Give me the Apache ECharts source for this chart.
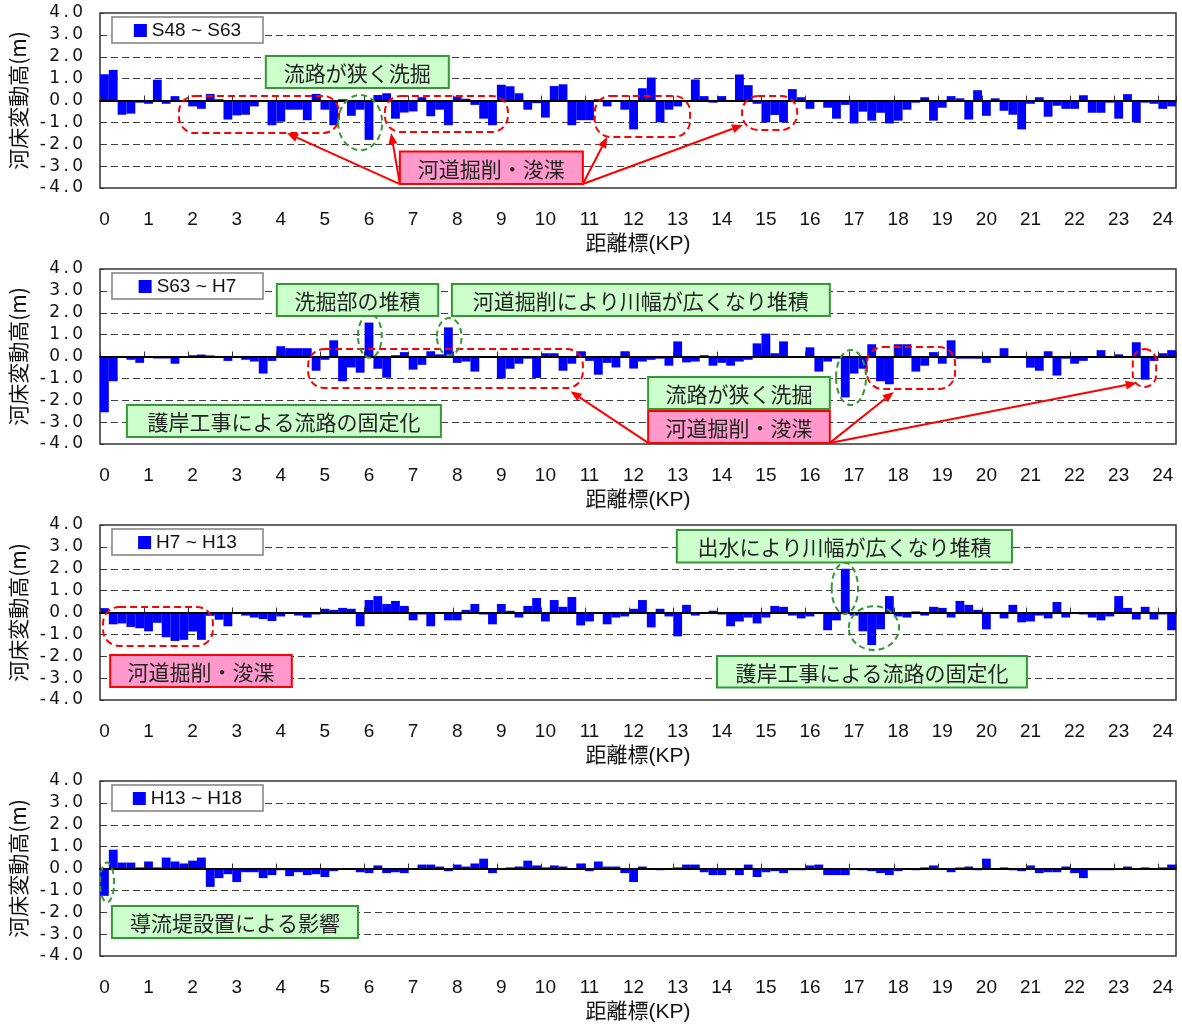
<!DOCTYPE html>
<html><head><meta charset="utf-8">
<script src="https://cdn.jsdelivr.net/npm/echarts@6/dist/echarts.min.js"></script>
<style>html,body{margin:0;padding:0;background:#fff}#c{width:1182px;height:1029px}</style>
</head><body><div id="c"></div>
<script>
// ---------- data ----------
const kp = [0,0.2,0.4,0.6,0.8,1,1.2,1.4,1.6,1.8,2,2.2,2.4,2.6,2.8,3,3.2,3.4,3.6,3.8,
4,4.2,4.4,4.6,4.8,5,5.2,5.4,5.6,5.8,6,6.2,6.4,6.6,6.8,7,7.2,7.4,7.6,7.8,
8,8.2,8.4,8.6,8.8,9,9.2,9.4,9.6,9.8,10,10.2,10.4,10.6,10.8,11,11.2,11.4,11.6,11.8,
12,12.2,12.4,12.6,12.8,13,13.2,13.4,13.6,13.8,14,14.2,14.4,14.6,14.8,15,15.2,15.4,15.6,15.8,
16,16.2,16.4,16.6,16.8,17,17.2,17.4,17.6,17.8,18,18.2,18.4,18.6,18.8,19,19.2,19.4,19.6,19.8,
20,20.2,20.4,20.6,20.8,21,21.2,21.4,21.6,21.8,22,22.2,22.4,22.6,22.8,23,23.2,23.4,23.6,23.8,
24,24.2];

const periods = ['S48 ~ S63', 'S63 ~ H7', 'H7 ~ H13', 'H13 ~ H18'];

const chgS48_S63 = [1.2,1.4,-0.65,-0.6,-0.1,-0.15,0.95,-0.15,0.2,0.0,
-0.27,-0.38,0.3,0.06,-0.87,-0.68,-0.65,-0.27,-0.05,-1.13,
-0.97,-0.42,-0.42,-0.9,0.3,-0.42,-1.13,0.06,-0.7,-0.42,
-1.8,0.25,0.33,-0.83,-0.55,-0.5,0.15,-0.72,-0.42,-1.13,
0.18,0.08,-0.2,-0.83,-1.13,0.72,0.65,0.33,-0.42,-0.12,
-0.78,0.66,0.74,-1.13,-0.9,-0.9,0.06,-0.27,0.0,-0.42,
-1.32,0.56,1.05,-1.0,-0.42,-0.27,-0.05,0.96,0.2,-0.1,
0.2,-0.05,1.19,0.7,-0.15,-1.0,-0.66,-1.0,0.52,0.15,
-0.38,0.0,-0.33,-0.83,-0.2,-1.05,-0.51,-0.92,-0.56,-1.05,
-0.92,-0.42,-0.1,0.15,-0.92,-0.33,0.2,0.1,-0.87,0.47,
-0.7,0.1,-0.47,-0.65,-1.32,-0.15,0.15,-0.74,-0.24,-0.38,
-0.38,0.24,-0.56,-0.56,-0.1,-0.83,0.29,-1.0,-0.1,-0.15,
-0.38,-0.27];

const chgS63_H7 = [-2.55,-1.13,-0.03,-0.15,-0.29,-0.02,-0.09,-0.09,-0.33,-0.06,
0.06,0.09,0.05,0.0,-0.2,-0.06,-0.15,-0.23,-0.78,-0.2,
0.47,0.38,0.38,0.38,-0.65,-0.15,0.74,-1.13,-0.5,-0.74,
1.55,-0.56,-0.97,0.06,0.2,-0.6,-0.38,0.24,0.1,1.33,
-0.29,-0.23,-0.69,0.0,-0.02,-1.01,-0.56,-0.33,-0.1,-0.98,
0.15,0.15,-0.65,-0.33,0.24,-0.2,-0.83,-0.29,-0.5,0.24,
-0.55,-0.23,-0.15,-0.1,-0.42,0.69,-0.27,-0.23,0.06,-0.42,
-0.29,-0.42,-0.23,-0.15,0.6,1.05,0.15,0.69,0.0,0.0,
0.42,-0.69,-0.23,-0.1,-1.87,-0.78,-0.56,0.56,-1.13,-1.27,
0.56,0.56,-0.69,-0.42,0.2,-0.33,0.74,-0.1,-0.1,-0.1,
-0.29,0.0,0.38,-0.06,0.0,-0.51,-0.65,0.24,-0.87,-0.1,
-0.33,-0.2,0.0,0.29,0.0,0.1,0.0,0.65,-1.06,-0.2,
0.15,0.29];

const chgH7_H13 = [0.2,-0.54,-0.5,-0.66,-0.72,-0.86,-0.47,-1.13,-1.3,-1.25,
-0.87,-1.25,-0.15,-0.33,-0.63,0.0,-0.14,-0.23,-0.3,-0.39,
-0.18,-0.05,-0.14,-0.23,-0.09,0.17,0.12,0.21,0.17,-0.63,
0.57,0.75,0.39,0.53,0.3,-0.36,-0.09,-0.63,0.0,-0.36,
-0.36,0.12,0.39,-0.09,-0.54,0.39,0.08,-0.23,0.3,0.66,
-0.41,0.57,0.26,0.71,-0.59,-0.41,0.0,-0.54,-0.23,-0.18,
0.17,0.57,-0.68,0.17,-0.18,-1.09,0.35,-0.14,0.0,0.08,
-0.09,-0.63,-0.41,-0.23,-0.5,-0.23,0.3,0.26,-0.14,-0.27,
-0.18,-0.05,-0.81,-0.36,2.0,-0.14,-0.86,-1.49,-0.77,0.75,
-0.18,-0.23,0.05,-0.14,0.26,0.21,-0.23,0.53,0.35,0.12,
-0.77,-0.05,-0.27,0.35,-0.45,-0.41,-0.14,-0.27,0.48,-0.23,
-0.02,-0.09,-0.23,-0.36,-0.18,0.75,0.21,-0.32,0.26,-0.32,
-0.09,-0.81];

const chgH13_H18 = [-1.25,0.86,0.27,0.27,0.05,0.32,0.05,0.5,0.32,0.23,
0.36,0.5,-0.84,-0.44,-0.26,-0.62,-0.17,-0.17,-0.44,-0.3,
-0.08,-0.35,-0.17,-0.3,-0.26,-0.39,-0.12,0.0,0.0,-0.17,
-0.21,0.14,-0.21,-0.17,-0.21,0.0,0.18,0.18,0.09,-0.12,
0.18,0.09,0.23,0.45,-0.21,0.0,0.05,0.09,0.36,0.14,
0.05,0.14,0.09,0.0,0.23,-0.12,0.32,0.09,0.09,-0.21,
-0.62,0.09,0.0,-0.08,0.0,0.05,0.18,0.18,-0.17,-0.3,
-0.3,-0.08,-0.3,0.18,-0.39,-0.17,-0.12,-0.21,-0.08,-0.08,
0.14,0.18,-0.3,-0.3,-0.3,0.0,-0.08,-0.12,-0.21,-0.3,
-0.12,0.0,-0.08,0.05,0.14,0.0,-0.17,0.05,0.09,-0.08,
0.45,0.0,0.05,-0.08,-0.12,0.14,-0.21,-0.17,-0.17,0.09,
-0.21,-0.44,-0.08,-0.08,-0.08,0.0,0.09,0.02,0.05,0.0,
0.05,0.18];

const yMin = -4, yMax = 4, yStep = 1;
const yTitle = '河床変動高(m)';
const xTitle = '距離標(KP)';

// annotations in data units (panel, KP, metres)
const noteBoxes = [
  {p:0, t:'流路が狭く洗掘', kind:'g', kp:[3.66,7.81], v:[2.03,0.57]},
  {p:0, t:'河道掘削・浚渫', kind:'r', kp:[6.70,10.85], v:[-2.33,-3.82]},
  {p:1, t:'洗掘部の堆積', kind:'g', kp:[3.91,7.57], v:[3.31,1.85]},
  {p:1, t:'河道掘削により川幅が広くなり堆積', kind:'g', kp:[7.88,16.45], v:[3.31,1.85]},
  {p:1, t:'護岸工事による流路の固定化', kind:'g', kp:[0.51,7.63], v:[-2.22,-3.68]},
  {p:1, t:'流路が狭く洗掘', kind:'g', kp:[12.33,16.45], v:[-0.94,-2.40]},
  {p:1, t:'河道掘削・浚渫', kind:'r', kp:[12.33,16.45], v:[-2.49,-3.95]},
  {p:2, t:'河道掘削・浚渫', kind:'r', kp:[0.13,4.25], v:[-1.94,-3.41]},
  {p:2, t:'出水により川幅が広くなり堆積', kind:'g', kp:[12.98,20.58], v:[3.77,2.29]},
  {p:2, t:'護岸工事による流路の固定化', kind:'g', kp:[13.89,20.92], v:[-1.99,-3.43]},
  {p:3, t:'導流堤設置による影響', kind:'g', kp:[0.17,5.75], v:[-1.71,-3.18]}
];
const redZones = [
  {p:0, kp:[1.69,5.32], v:[0.21,-1.49]},
  {p:0, kp:[6.36,9.15], v:[0.21,-1.44]},
  {p:0, kp:[11.12,13.28], v:[0.21,-1.67]},
  {p:0, kp:[14.46,15.71], v:[0.21,-1.35]},
  {p:1, kp:[4.62,10.85], v:[0.34,-1.44]},
  {p:1, kp:[17.29,19.29], v:[0.43,-1.49]},
  {p:1, kp:[23.32,23.85], v:[0.34,-1.39]},
  {p:2, kp:[-0.03,2.46], v:[0.25,-1.53]}
];
const greenRings = [
  {p:0, kp:5.80, v:-1.01, rk:0.50, rv:1.26},
  {p:1, kp:6.02, v:0.94, rk:0.27, rv:1.0},
  {p:1, kp:7.82, v:0.91, rk:0.28, rv:0.85},
  {p:1, kp:16.93, v:-0.96, rk:0.34, rv:1.26},
  {p:2, kp:16.79, v:1.10, rk:0.30, rv:1.17},
  {p:2, kp:17.45, v:-0.71, rk:0.57, rv:1.0},
  {p:3, kp:0.06, v:-0.64, rk:0.16, rv:0.91}
];
const arrows = [
  {p:0, from:[6.70,-3.82], to:[4.14,-1.49]},
  {p:0, from:[6.70,-3.82], to:[6.50,-1.49]},
  {p:0, from:[10.85,-3.82], to:[11.40,-1.67]},
  {p:0, from:[10.85,-3.82], to:[14.48,-1.12]},
  {p:1, from:[12.33,-3.95], to:[10.57,-1.59]},
  {p:1, from:[16.45,-3.95], to:[17.90,-1.62]},
  {p:1, from:[16.45,-3.95], to:[23.41,-1.21]}
];

// ---------- chart ----------
const seriesData = [chgS48_S63, chgS63_H7, chgH7_H13, chgH13_H18];
const gridTops = [13, 269, 525, 781];
const GL = 100, GW = 1076, GH = 175;
const LATIN = '"Liberation Sans"';
const WIDE = '"DejaVu Sans"';
const CJK = '"Noto Sans CJK JP"';

const mctx = document.createElement('canvas').getContext('2d');
function textW(t, font){ mctx.font = font; return mctx.measureText(t).width; }

function yFmt(v){
  let s = Number(v).toFixed(1);
  if (s === '-0.0') s = '0.0';
  s = s.replace('.', '\u2009.\u2009');
  if (s.charAt(0) === '-') s = '-\u2009' + s.slice(1);
  return s;
}
function xFmt(v){
  const n = Number(v);
  return Math.abs(n - Math.round(n)) < 1e-6 ? String(Math.round(n)) : '';
}

const grids = [], xAxes = [], yAxes = [], series = [], legends = [];
for (let i = 0; i < 4; i++) {
  grids.push({left: GL, top: gridTops[i], width: GW, height: GH, show: true,
    borderColor: '#333', borderWidth: 1.5, backgroundColor: 'transparent',
    containLabel: false, outerBoundsMode: 'none'});
  xAxes.push({type: 'category', gridIndex: i, data: kp, position: 'bottom', z: 3,
    axisLine: {show: true, onZero: true, lineStyle: {color: '#000', width: 2}},
    axisTick: {show: true, interval: 4, inside: true, length: 5, lineStyle: {color: '#333', width: 1}},
    axisLabel: {show: false}, splitLine: {show: false}});
  xAxes.push({type: 'category', gridIndex: i, data: kp, position: 'bottom',
    axisLine: {show: false, onZero: false}, axisTick: {show: false}, splitLine: {show: false},
    axisLabel: {show: true, interval: 4, margin: 22, fontSize: 19, fontFamily: LATIN, color: '#111',
      formatter: xFmt, hideOverlap: false},
    name: xTitle, nameLocation: 'middle', nameGap: 46,
    nameTextStyle: {fontSize: 21, fontFamily: LATIN + ',' + CJK, color: '#111'}});
  yAxes.push({type: 'value', gridIndex: i, min: yMin, max: yMax, interval: yStep,
    axisLine: {show: false},
    axisTick: {show: true, inside: true, length: 4, lineStyle: {color: '#333'}},
    axisLabel: {formatter: yFmt, fontSize: 17, fontFamily: WIDE, color: '#111', margin: 17},
    splitLine: {show: true, showMinLine: false, showMaxLine: false,
      lineStyle: {type: [7, 4], color: '#404040', width: 1}},
    name: yTitle, nameLocation: 'middle', nameGap: 70, nameRotate: 90,
    nameTextStyle: {fontSize: 21, fontFamily: CJK, color: '#111'}});
  series.push({type: 'bar', name: periods[i], xAxisIndex: i * 2, yAxisIndex: i,
    data: seriesData[i], barCategoryGap: '0%', barGap: '0%',
    itemStyle: {color: '#0000ff'}, emphasis: {disabled: true}, silent: true});
  const tw = textW(periods[i], '19px ' + LATIN);
  const side = Math.max(4, (151 - 18 - tw) / 2);
  legends.push({data: [periods[i]], left: 112, top: gridTops[i] + 4, orient: 'horizontal',
    icon: 'rect', itemWidth: 13, itemHeight: 13, selectedMode: false,
    backgroundColor: '#fff', borderColor: '#808080', borderWidth: 1.5, borderRadius: 0,
    padding: [4, side, 3, side], z: 6,
    textStyle: {fontSize: 19, fontFamily: LATIN, color: '#111', lineHeight: 19}});
}

const chart = echarts.init(document.getElementById('c'), null, {renderer: 'canvas'});
chart.setOption({animation: false, backgroundColor: '#fff',
  grid: grids, xAxis: xAxes, yAxis: yAxes, series: series, legend: legends});

// ---------- annotations positioned through the axes ----------
function P(p, k, v){
  const xa = chart.convertToPixel({xAxisIndex: p * 2}, 0);
  const xb = chart.convertToPixel({xAxisIndex: p * 2}, 1);
  const x = xa + (k / 0.2) * (xb - xa);
  const y = chart.convertToPixel({yAxisIndex: p}, v);
  return [x, y];
}
const gfx = [];
redZones.forEach(r => {
  const a = P(r.p, r.kp[0], r.v[0]), b = P(r.p, r.kp[1], r.v[1]);
  const h = b[1] - a[1];
  gfx.push({type: 'rect', z: 100, silent: true,
    shape: {x: a[0], y: a[1], width: b[0] - a[0], height: h, r: Math.min(16, h / 2)},
    style: {fill: 'none', stroke: '#ff0000', lineWidth: 2, lineDash: [7, 4]}});
});
greenRings.forEach(c => {
  const o = P(c.p, c.kp, c.v), e = P(c.p, c.kp + c.rk, c.v - c.rv);
  gfx.push({type: 'ellipse', z: 100, silent: true,
    shape: {cx: o[0], cy: o[1], rx: e[0] - o[0], ry: e[1] - o[1]},
    style: {fill: 'none', stroke: '#339933', lineWidth: 2, lineDash: [6, 4]}});
});
arrows.forEach(a => {
  const s = P(a.p, a.from[0], a.from[1]), e = P(a.p, a.to[0], a.to[1]);
  const dx = e[0] - s[0], dy = e[1] - s[1], L = Math.hypot(dx, dy), ux = dx / L, uy = dy / L;
  const hl = 11, hw = 4.5;
  const bx = e[0] - ux * hl, by = e[1] - uy * hl;
  gfx.push({type: 'line', z: 101, silent: true,
    shape: {x1: s[0], y1: s[1], x2: bx, y2: by}, style: {stroke: '#ff0000', lineWidth: 2}});
  gfx.push({type: 'polygon', z: 101, silent: true,
    shape: {points: [[e[0], e[1]], [bx - uy * hw, by + ux * hw], [bx + uy * hw, by - ux * hw]]},
    style: {fill: '#ff0000'}});
});
noteBoxes.forEach(b => {
  const a = P(b.p, b.kp[0], b.v[0]), c = P(b.p, b.kp[1], b.v[1]);
  const green = b.kind === 'g';
  gfx.push({type: 'rect', z: 102, silent: true,
    shape: {x: a[0], y: a[1], width: c[0] - a[0], height: c[1] - a[1]},
    style: {fill: green ? '#ccffcc' : '#ff99cc', stroke: green ? '#339933' : '#ff0000', lineWidth: 2}});
  gfx.push({type: 'text', z: 103, silent: true,
    x: (a[0] + c[0]) / 2, y: (a[1] + c[1]) / 2 + 1,
    style: {text: b.t, fill: '#222', font: '21px ' + CJK, align: 'center', verticalAlign: 'middle'}});
});
chart.setOption({graphic: {elements: gfx}});
</script>
</body></html>
